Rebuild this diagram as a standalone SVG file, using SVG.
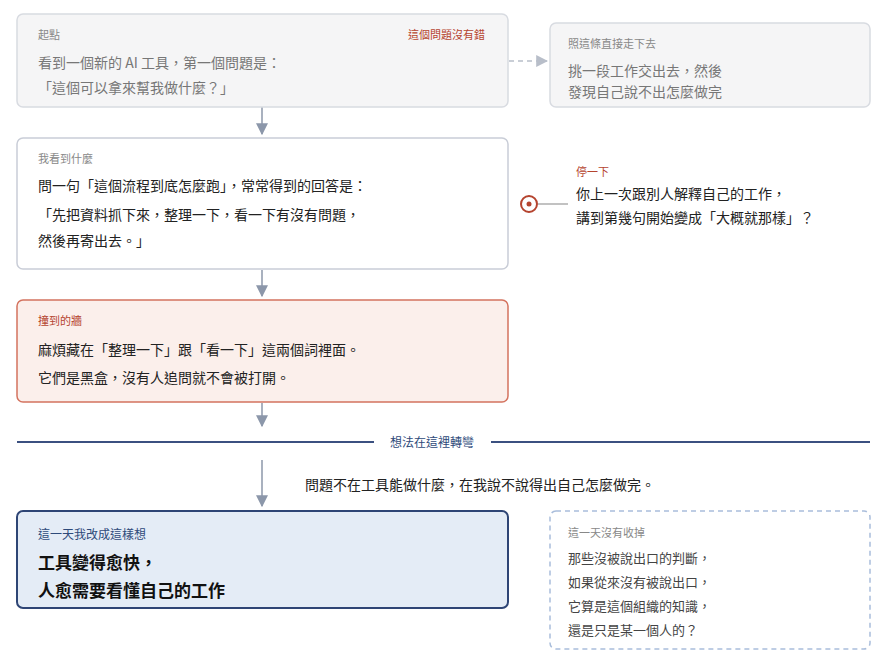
<svg xmlns="http://www.w3.org/2000/svg" width="891" height="671" viewBox="0 0 891 671">
<defs>
<style>
text{font-family:"Noto Sans CJK TC","Noto Sans CJK SC",sans-serif}
.lab{font-size:11px;fill:#888}
.red{fill:#b5442f}
.t{font-size:14px;fill:#222}
.g{fill:#777}
.c{stroke:#8c97aa;stroke-width:1.5;fill:none}
</style>
<marker id="ah" viewBox="0 0 10 10" refX="9" refY="5" markerWidth="8" markerHeight="8" orient="auto"><path d="M0,0L10,5L0,10z" fill="#8c97aa"/></marker>
<marker id="ahl" viewBox="0 0 10 10" refX="9" refY="5" markerWidth="8" markerHeight="8" orient="auto"><path d="M0,0L10,5L0,10z" fill="#b8bec9"/></marker>
</defs>
<rect width="891" height="671" fill="#fff"/>
<g id="connectors">
<line class="c" x1="262" y1="107" x2="262" y2="134" marker-end="url(#ah)"/>
<line class="c" x1="262" y1="270" x2="262" y2="296" marker-end="url(#ah)"/>
<line class="c" x1="262" y1="403" x2="262" y2="426" marker-end="url(#ah)"/>
<line class="c" x1="262" y1="460" x2="262" y2="506" marker-end="url(#ah)"/>
<line x1="509" y1="61" x2="547" y2="61" stroke="#b8bec9" stroke-width="1.5" stroke-dasharray="5,4" marker-end="url(#ahl)"/>
<line x1="538" y1="204" x2="568" y2="204" stroke="#999" stroke-width="1.2"/>
</g>
<g id="start">
<rect x="17" y="14" width="491" height="93" rx="6" fill="#f5f5f6" stroke="#d8dbe1" stroke-width="1.5"/>
<text class="lab" x="38" y="39">起點</text>
<text class="lab red" x="485" y="39" text-anchor="end">這個問題沒有錯</text>
<text class="t g" x="38" y="68">看到一個新的 AI 工具，第一個問題是：</text>
<text class="t g" x="38" y="93">「這個可以拿來幫我做什麼？」</text>
</g>
<g id="direct">
<rect x="550" y="23" width="320" height="84" rx="6" fill="#f5f5f6" stroke="#d8dbe1" stroke-width="1.5"/>
<text class="lab" x="568" y="48">照這條直接走下去</text>
<text class="t g" x="568" y="76">挑一段工作交出去，然後</text>
<text class="t g" x="568" y="97">發現自己說不出怎麼做完</text>
</g>
<g id="saw">
<rect x="17" y="138" width="491" height="131" rx="6" fill="#fff" stroke="#c9cdd7" stroke-width="1.5"/>
<text class="lab" x="38" y="163">我看到什麼</text>
<text class="t" x="38" y="191">問一句「這個流程到底怎麼跑」，常常得到的回答是：</text>
<text class="t" x="38" y="220">「先把資料抓下來，整理一下，看一下有沒有問題，</text>
<text class="t" x="38" y="246">然後再寄出去。」</text>
</g>
<g id="pause">
<circle cx="529" cy="204" r="8" fill="#fff" stroke="#b5442f" stroke-width="2"/>
<circle cx="529" cy="204" r="2.5" fill="#b5442f"/>
<text class="lab red" x="576" y="176">停一下</text>
<text class="t red" x="576" y="199">你上一次跟別人解釋自己的工作，</text>
<text class="t red" x="576" y="223">講到第幾句開始變成「大概就那樣」？</text>
</g>
<g id="wall">
<rect x="17" y="300" width="491" height="102" rx="6" fill="#fbefeb" stroke="#d4735f" stroke-width="1.5"/>
<text class="lab red" x="38" y="325">撞到的牆</text>
<text class="t" x="38" y="355">麻煩藏在「整理一下」跟「看一下」這兩個詞裡面。</text>
<text class="t" x="38" y="383">它們是黑盒，沒有人追問就不會被打開。</text>
</g>
<g id="divider">
<line x1="17" y1="442" x2="374" y2="442" stroke="#3b5080" stroke-width="2"/>
<line x1="491" y1="442" x2="870" y2="442" stroke="#3b5080" stroke-width="2"/>
<text x="432" y="447" font-size="12" fill="#2e4a7a" text-anchor="middle">想法在這裡轉彎</text>
</g>
<text class="t" x="305" y="490">問題不在工具能做什麼，在我說不說得出自己怎麼做完。</text>
<g id="newthought">
<rect x="17" y="511" width="491" height="97" rx="6" fill="#e4ecf6" stroke="#2e4575" stroke-width="2"/>
<text x="38" y="539" font-size="12" fill="#2e4a7a">這一天我改成這樣想</text>
<text x="38" y="569" font-size="17" font-weight="bold" fill="#111">工具變得愈快，</text>
<text x="38" y="597" font-size="17" font-weight="bold" fill="#111">人愈需要看懂自己的工作</text>
</g>
<g id="unresolved">
<rect x="550" y="511" width="320" height="138" rx="6" fill="#fff" stroke="#a9bddb" stroke-width="1.5" stroke-dasharray="5,4"/>
<text class="lab" x="568" y="537">這一天沒有收掉</text>
<text x="568" y="563" font-size="13" fill="#444">那些沒被說出口的判斷，</text>
<text x="568" y="587" font-size="13" fill="#444">如果從來沒有被說出口，</text>
<text x="568" y="611" font-size="13" fill="#444">它算是這個組織的知識，</text>
<text x="568" y="635" font-size="13" fill="#444">還是只是某一個人的？</text>
</g>
</svg>
